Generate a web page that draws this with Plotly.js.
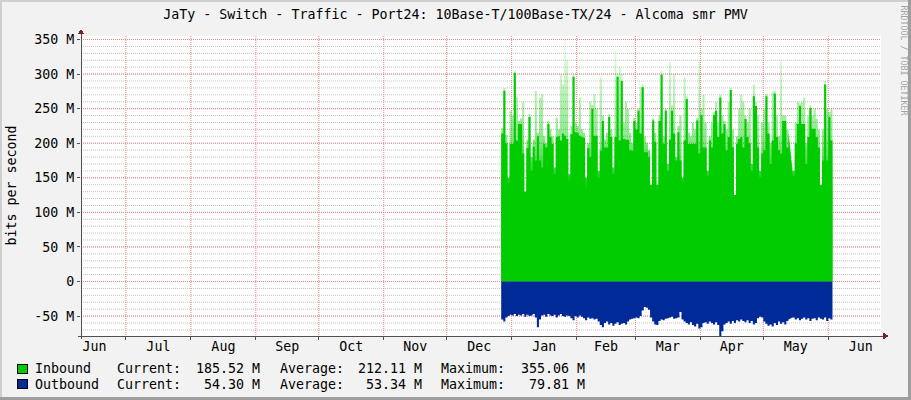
<!DOCTYPE html>
<html><head><meta charset="utf-8">
<script src="https://cdn.plot.ly/plotly-3.0.1.min.js"></script>
<style>
html,body{margin:0;padding:0;background:#f2f2f2;}
#chart{width:911px;height:400px;}
.shapelayer path{shape-rendering:crispEdges;}
#chart .gridlayer path, #chart .minor-gridlayer path{shape-rendering:geometricPrecision !important;}
</style></head><body><div id="chart"></div>
<script>
// ---- data (one value per day, starting at startDate) ----
const startDate = '2010-12-27';
const inbound = [
214,276,200,142,199,199,302,204,228,228,
185,124,193,238,160,195,175,210,175,165,
199,194,228,209,199,155,209,210,204,214,
211,206,147,213,296,216,215,211,209,208,
135,193,180,250,211,211,150,189,232,194,
194,238,209,156,209,296,204,290,206,205,
205,190,189,232,220,247,214,281,187,187,
180,130,233,202,131,232,299,199,247,160,
205,247,214,175,216,175,144,204,264,199,
199,199,199,233,185,241,194,194,153,204,
194,241,247,209,266,214,228,190,209,277,
194,119,199,206,209,194,235,209,200,160,
268,254,194,151,185,190,268,214,170,204,
272,209,190,185,232,232,194,214,null,153,
200,228,254,228,228,170,209,251,221,221,
209,194,127,175,285,175,238,204,185.52];
const inboundPeak = [
222,280,212,150,247,240,305,266,232,236,
260,130,205,242,180,205,276,215,266,271,
210,200,232,220,210,165,237,220,300,285,
352,320,155,225,300,230,225,266,220,215,
150,200,260,255,271,250,160,295,240,205,
215,242,220,165,335,300,310,300,230,260,
250,215,200,236,230,250,281,285,210,200,
190,140,236,215,140,240,305,210,250,170,
318,255,300,180,225,240,150,295,268,215,
210,230,220,236,320,250,270,230,160,210,
230,245,260,230,270,240,232,220,260,280,
220,125,210,250,270,260,240,230,250,170,
285,260,240,160,230,250,272,230,200,275,
276,240,210,320,240,240,220,220,null,160,
230,260,258,260,266,200,240,255,240,250,
235,220,140,220,290,250,245,250,200];
const outbound = [
-55,-58,-52,-50,-48,-49,-47,-50,-48,-49,
-47,-51,-48,-50,-49,-47,-52,-66,-55,-49,
-48,-51,-47,-49,-50,-48,-52,-49,-47,-50,
-51,-49,-50,-53,-56,-50,-52,-49,-51,-53,
-56,-52,-54,-53,-55,-54,-58,-63,-66,-60,
-58,-62,-60,-64,-61,-59,-63,-61,-60,-62,
-58,-55,-54,-53,-52,-53,-50,-42,-37,-38,
-41,-52,-58,-62,-63,-57,-55,-56,-54,-53,
-52,-51,-54,-53,-52,-44,-55,-58,-60,-62,
-59,-63,-65,-61,-68,-66,-60,-59,-61,-58,
-60,-62,-59,-63,-79.8,-72,-62,-60,-58,-61,
-57,-60,-56,-58,-55,-57,-59,-56,-60,-57,
-62,-60,-53,-51,-52,-58,-61,-64,-62,-65,
-60,-63,-58,-61,-59,-62,-57,-55,null,-52,
-55,-53,-56,-54,-52,-55,-53,-57,-54,-53,
-56,-52,-54,-55,-52,-57,-53,-55,-54.30];

const yTickVals = [-50,0,50,100,150,200,250,300,350];
const yTickText = ['-50 M','0','50 M','100 M','150 M','200 M','250 M','300 M','350 M'];
const legendNames = ['Inbound','Outbound'];
const legendColors = ['#00CC00','#002A97'];
const legendCurrent = ['185.52 M','54.30 M'];
const legendAverage = ['212.11 M','53.34 M'];
const legendMaximum = ['355.06 M','79.81 M'];
const titleText = 'JaTy - Switch - Traffic - Port24: 10Base-T/100Base-TX/24 - Alcoma smr PMV';

// ---- build ----
const dates = [];
const d0 = new Date(startDate + 'T00:00:00Z');
for (let i = 0; i < inbound.length; i++) {
  dates.push(new Date(d0.getTime() + i * 86400000).toISOString().slice(0, 10));
}

const FONT = "'DejaVu Sans Mono', monospace";
const FS = 13.3;
const L = 81, T = 36, W = 800, H = 300;
const px = x => (x - L) / W;
const py = y => (T + H - y) / H;

const traces = [
  {type:'scatter', x:dates, y:inboundPeak, mode:'lines', line:{width:0, shape:'hv'},
   fill:'tozeroy', fillcolor:'rgba(0,204,0,0.5)',
   fillgradient:{type:'vertical', start:130, stop:355,
     colorscale:[[0,'rgba(0,204,0,1)'],[0.35,'rgba(0,204,0,0.45)'],[1,'rgba(0,204,0,0.04)']]},
   hoverinfo:'skip', showlegend:false},
  {type:'scatter', x:dates, y:inbound, mode:'lines', line:{width:0, shape:'hv'},
   fill:'tozeroy', fillcolor:'#00CC00', name:'Inbound', showlegend:false},
  {type:'scatter', x:dates, y:outbound, mode:'lines', line:{width:0, shape:'hv'},
   fill:'tozeroy', fillcolor:'#002A97', name:'Outbound', showlegend:false}
];

const GRID = '#c2c2c2';
const MGRID = '#ec8080';
const shapes = [];
// axes lines
const AXIS = '#505050';
shapes.push({type:'line', xref:'paper', yref:'paper', x0:px(78), x1:px(884), y0:py(336), y1:py(336), line:{color:AXIS, width:1}});
shapes.push({type:'line', xref:'paper', yref:'paper', x0:px(81), x1:px(81), y0:py(339), y1:py(33), line:{color:AXIS, width:1}});
// arrows
const ARROW = '#801f1f';
shapes.push({type:'path', xref:'paper', yref:'paper', fillcolor:ARROW, line:{width:0},
  path:`M ${px(77.5)},${py(34)} L ${px(84.5)},${py(34)} L ${px(81)},${py(29)} Z`});
shapes.push({type:'path', xref:'paper', yref:'paper', fillcolor:ARROW, line:{width:0},
  path:`M ${px(883)},${py(332.5)} L ${px(883)},${py(339.5)} L ${px(889)},${py(336)} Z`});
// frame shading
shapes.push({type:'rect', xref:'paper', yref:'paper', x0:px(0), x1:px(911), y0:py(0), y1:py(2), fillcolor:'#cfcfcf', line:{width:0}});
shapes.push({type:'rect', xref:'paper', yref:'paper', x0:px(0), x1:px(2), y0:py(0), y1:py(400), fillcolor:'#cfcfcf', line:{width:0}});
shapes.push({type:'rect', xref:'paper', yref:'paper', x0:px(908), x1:px(911), y0:py(0), y1:py(400), fillcolor:'#9e9e9e', line:{width:0}});
shapes.push({type:'rect', xref:'paper', yref:'paper', x0:px(0), x1:px(911), y0:py(397), y1:py(400), fillcolor:'#9e9e9e', line:{width:0}});

const annotations = [];
const txt = (text, x, y, xanchor, extra) => Object.assign({
  text, xref:'paper', yref:'paper', x:px(x), y:py(y), xanchor, yanchor:'middle',
  showarrow:false, borderpad:0, font:{family:FONT, size:FS, color:'#000'}}, extra || {});

// legend
const rowY = [368.7, 384];
legendNames.forEach((n, i) => {
  shapes.push({type:'rect', xref:'paper', yref:'paper', x0:px(17.5), x1:px(27.5),
    y0:py(rowY[i] - 4.7), y1:py(rowY[i] + 4.7), fillcolor:legendColors[i], line:{color:'#000', width:1}});
  annotations.push(txt(n, 34, rowY[i], 'left'));
  annotations.push(txt('Current:', 116, rowY[i], 'left'));
  annotations.push(txt(legendCurrent[i], 261, rowY[i], 'right'));
  annotations.push(txt('Average:', 278.5, rowY[i], 'left'));
  annotations.push(txt(legendAverage[i], 422.5, rowY[i], 'right'));
  annotations.push(txt('Maximum:', 439.5, rowY[i], 'left'));
  annotations.push(txt(legendMaximum[i], 586, rowY[i], 'right'));
});
// y axis title
annotations.push(txt('bits per second', 10.5, 186, 'center', {textangle:-90}));
// watermark
annotations.push(txt('RRDTOOL / TOBI OETIKER', 903.5, 60, 'center',
  {textangle:90, font:{family:FONT, size:8.3, color:'#a4a4a4'}}));

const layout = {
  width:911, height:400,
  margin:{l:L, r:911 - L - W, t:T, b:400 - T - H, pad:0},
  paper_bgcolor:'#f2f2f2', plot_bgcolor:'#ffffff',
  showlegend:false,
  title:{text:titleText, font:{family:FONT, size:FS, color:'#000'},
    x:0.5, xref:'container', xanchor:'center', y:1 - 14.3/400, yref:'container', yanchor:'middle'},
  xaxis:{type:'date', range:['2010-06-09 14:10','2011-06-26 03:22'],
    showgrid:true, gridcolor:MGRID, griddash:'1px,1px', gridwidth:1,
    zeroline:false, showline:false,
    dtick:'M1', tick0:'2010-06-01', tickformat:'%b', ticklabelmode:'period',
    ticks:'outside', ticklen:3, tickcolor:AXIS, ticklabelstandoff:-5,
    tickfont:{family:FONT, size:FS, color:'#000'}, fixedrange:true},
  yaxis:{range:[-78.8, 355.1], zeroline:false, showline:false,
    showgrid:true, gridcolor:MGRID, griddash:'1px,1px', gridwidth:1,
    tickmode:'array', tickvals:yTickVals, ticktext:yTickText,
    ticks:'outside', ticklen:3, tickcolor:AXIS,
    minor:{tickmode:'linear', tick0:0, dtick:10, showgrid:true, gridcolor:GRID, griddash:'1px,1px', gridwidth:1, ticks:''},
    tickfont:{family:FONT, size:FS, color:'#000'}, fixedrange:true},
  shapes, annotations
};

Plotly.newPlot('chart', traces, layout, {displayModeBar:false, staticPlot:true});
</script></body></html>
